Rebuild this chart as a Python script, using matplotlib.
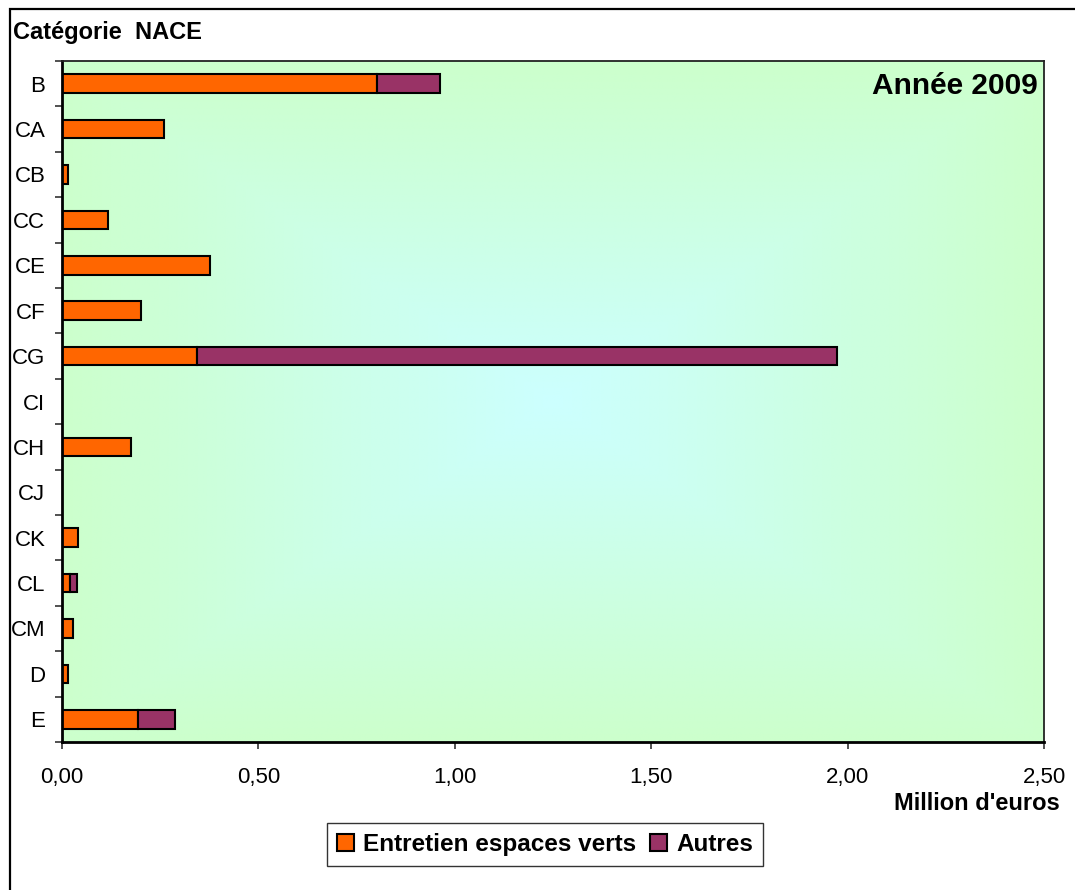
"""Horizontal stacked bars of expenditure by NACE category, 2009."""
import matplotlib

matplotlib.use("Agg")
import matplotlib.pyplot as plt
import numpy as np
from matplotlib.patches import Rectangle

plt.rcParams["font.family"] = ["Liberation Sans", "DejaVu Sans"]

categories = ["B", "CA", "CB", "CC", "CE", "CF", "CG", "CI", "CH", "CJ", "CK", "CL", "CM", "D", "E"]
entretien = [0.803, 0.260, 0.016, 0.117, 0.376, 0.201, 0.343, 0.0, 0.175, 0.0, 0.042, 0.020, 0.027, 0.016, 0.194]
autres = [0.160, 0.0, 0.0, 0.0, 0.0, 0.0, 1.631, 0.0, 0.0, 0.0, 0.0, 0.018, 0.0, 0.0, 0.093]
x_ticks = [0.0, 0.5, 1.0, 1.5, 2.0, 2.5]
x_tick_labels = ["0,00", "0,50", "1,00", "1,50", "2,00", "2,50"]

ORANGE = "#FF6600"
PLUM = "#993366"
W, H = 1075, 890

fig = plt.figure(figsize=(W / 100, H / 100), dpi=100)
ax = fig.add_axes([62 / W, 1 - 742 / H, (1044 - 62) / W, (742 - 61) / H])

n = len(categories)
ax.set_xlim(0, 2.5)
ax.set_ylim(n - 0.5, -0.5)

# background: rectangular gradient, pale cyan in the middle to pale green at the edges
gx = np.linspace(-1, 1, 400)
gy = np.linspace(-1, 1, 300)
u, v = np.meshgrid(gx, gy)
t = np.clip(np.maximum(np.abs(u), np.abs(v)), 0, 1)[..., None]
center = np.array([204, 255, 255]) / 255
edge = np.array([204, 255, 204]) / 255
grad = center * (1 - t) + edge * t
ax.imshow(grad, extent=(0, 2.5, n - 0.5, -0.5), aspect="auto", zorder=0, interpolation="bilinear")

y = np.arange(n)
ent = np.array(entretien)
aut = np.array(autres)
bar_h = 0.41
m1 = ent > 0
m2 = aut > 0
ax.barh(y[m1], ent[m1], height=bar_h, color=ORANGE, edgecolor="black", linewidth=1.5, zorder=2)
ax.barh(y[m2], aut[m2], left=ent[m2], height=bar_h, color=PLUM, edgecolor="black", linewidth=1.5, zorder=2)
# legend proxies
h1 = Rectangle((0, 0), 1, 1, facecolor=ORANGE, edgecolor="black", linewidth=1.5)
h2 = Rectangle((0, 0), 1, 1, facecolor=PLUM, edgecolor="black", linewidth=1.5)

ax.set_yticks(y)
ax.set_yticklabels(categories, fontsize=16)
ax.set_yticks(np.arange(-0.5, n, 1.0), minor=True)
ax.tick_params(axis="y", which="major", length=0, pad=12)
ax.tick_params(axis="y", which="minor", length=5, width=1.2, color="#333333")

ax.set_xticks(x_ticks)
ax.set_xticklabels(x_tick_labels, fontsize=16)
ax.tick_params(axis="x", which="major", length=5, width=1.2, color="#333333", pad=13)

for side in ("top", "right"):
    ax.spines[side].set_linewidth(1.3)
    ax.spines[side].set_color("#222222")
for side in ("left", "bottom"):
    ax.spines[side].set_linewidth(2)
    ax.spines[side].set_color("black")

ax.text(0.9935, 0.984, "Année 2009", transform=ax.transAxes, ha="right", va="top",
        fontsize=21.5, fontweight="bold", zorder=3)

fig.text(13 / W, 1 - 32 / H, "Catégorie  NACE", ha="left", va="center", fontsize=17, fontweight="bold")
fig.text(1060 / W, 1 - 803 / H, "Million d'euros", ha="right", va="center", fontsize=17, fontweight="bold")

leg = fig.legend([h1, h2], ["Entretien espaces verts", "Autres"], loc="center",
                 bbox_to_anchor=(545 / W, 1 - 844.5 / H), ncols=2,
                 prop={"weight": "bold", "size": 17.5}, fancybox=False, shadow=False,
                 handlelength=0.7, handleheight=0.7, handletextpad=0.35, columnspacing=0.6,
                 borderpad=0.4, borderaxespad=0)
leg.get_frame().set_edgecolor("black")
leg.get_frame().set_linewidth(1.0)

# outer chart frame, running off the right and bottom edges
fig.patches.append(Rectangle((10 / W, -0.1), 1.2, 1 - 9 / H + 0.1, transform=fig.transFigure,
                             fill=False, edgecolor="black", linewidth=1.6))

fig.savefig("out.png", dpi=100)
